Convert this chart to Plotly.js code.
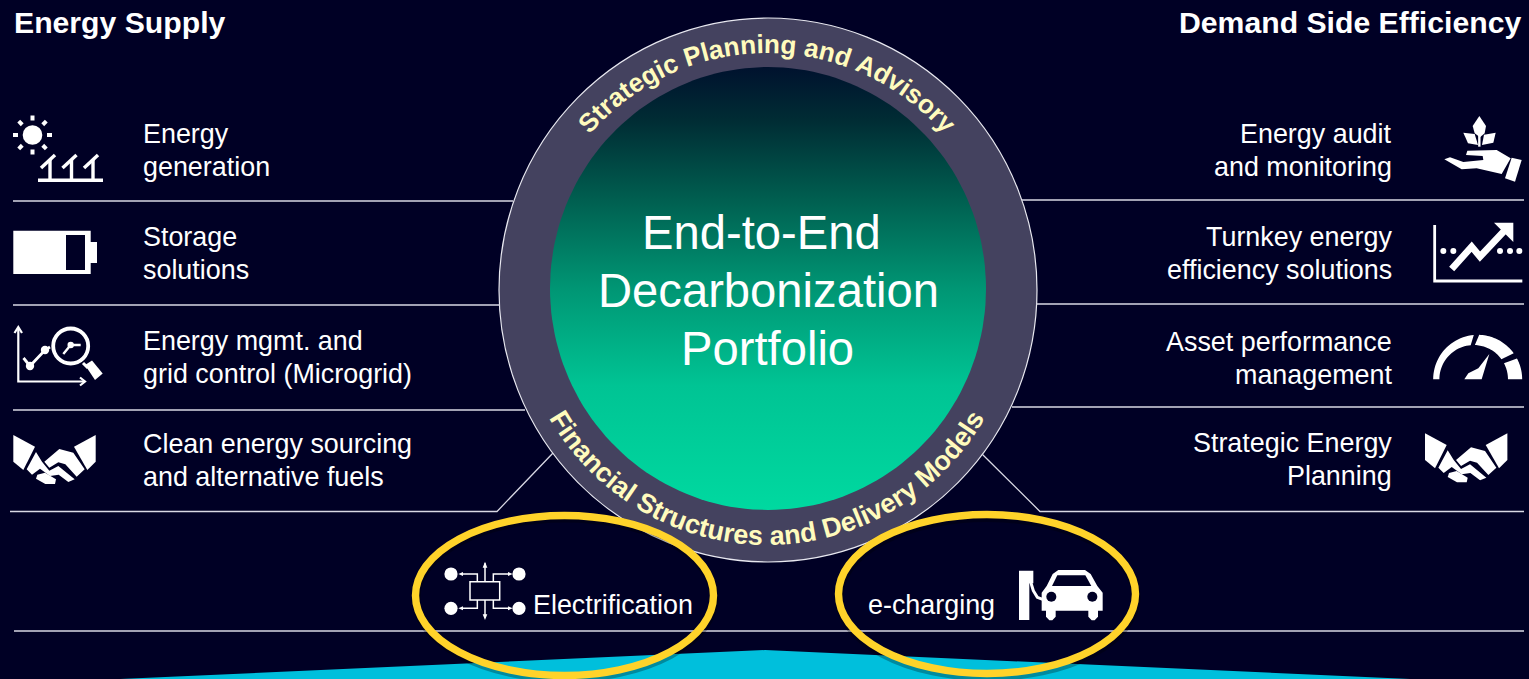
<!DOCTYPE html>
<html><head><meta charset="utf-8">
<script src="https://cdn.plot.ly/plotly-3.0.1.min.js"></script>
<style>html,body{margin:0;padding:0;background:#000025;overflow:hidden}#c{width:1529px;height:679px}</style>
</head><body><div id="c"></div>
<script>
const headerLeft = "Energy Supply";
const headerRight = "Demand Side Efficiency";
const leftLabels = [["Energy","generation"],["Storage","solutions"],["Energy mgmt. and","grid control (Microgrid)"],["Clean energy sourcing","and alternative fuels"]];
const rightLabels = [["Energy audit","and monitoring"],["Turnkey energy","efficiency solutions"],["Asset performance","management"],["Strategic Energy","Planning"]];
const centerLines = ["End-to-End","Decarbonization","Portfolio"];
const topArc = "Strategic Planning and Advisory";
const bottomArc = "Financial Structures and Delivery Models";
const bottomLabels = ["Electrification","e-charging"];

const BG="#000025", W="#ffffff", LINE="#d8d8e4", RING="#44425f", CREAM="#fffbbd", CYAN="#00bfdc", GOLD="#ffd32a";
const FONT="Liberation Sans";
const shapes=[], ann=[];

function P(pts,close){return "M"+pts.map(p=>p[0].toFixed(2)+","+p[1].toFixed(2)).join("L")+(close?"Z":"");}
function poly(pts,fill,layer){shapes.push({type:"path",path:P(pts,true),fillcolor:fill||W,line:{width:0},layer:layer||"above"});}
function pl(pts,w,color,layer){shapes.push({type:"path",path:P(pts,false),line:{width:w,color:color||W},fillcolor:"rgba(0,0,0,0)",layer:layer||"above"});}
function ell(cx,cy,rx,ry,fill,lw,lc,layer){shapes.push({type:"circle",x0:cx-rx,x1:cx+rx,y0:cy-ry,y1:cy+ry,fillcolor:fill||"rgba(0,0,0,0)",line:{width:lw||0,color:lc||W},layer:layer||"above"});}
function arc(cx,cy,r,a0,a1,n){const o=[];n=n||24;for(let i=0;i<=n;i++){const a=(a0+(a1-a0)*i/n)*Math.PI/180;o.push([cx+r*Math.cos(a),cy-r*Math.sin(a)]);}return o;}
function label(text,x,y,size,anchor,color,bold){ann.push({text:bold?"<b>"+text+"</b>":text,x:x,y:y,xref:"x",yref:"y",showarrow:false,xanchor:anchor,yanchor:"middle",font:{family:FONT,size:size,color:color||W},borderpad:0,borderwidth:0});}

// backdrop
poly([[120,679],[765,650],[1410,679]],CYAN,"below");
ell(768,290,269,272,RING,1.2,"#e8e8f0","below");

// separators
[201,305,410].forEach((y,i)=>pl([[13,y],[[513,500,525][i],y]],1.3,LINE,"below"));
[200,304,407].forEach((y,i)=>pl([[[1022,1036,1012][i],y],[1524,y]],1.3,LINE,"below"));
pl([[10,511.5],[497,511.5],[553,453]],1.3,LINE,"below");
pl([[982,454],[1040,511.5],[1524,511.5]],1.3,LINE,"below");
pl([[14,631],[1524,631]],1.3,LINE,"below");

// text blocks
label(headerLeft,14,22,30.2,"left",W,true);
label(headerRight,1521,22,30.2,"right",W,true);
const ly=[[134,167],[237,270],[341,374],[444,477]], ry=[[134,167],[237,270],[342,375],[443,476]];
leftLabels.forEach((l,i)=>l.forEach((t,j)=>label(t,143.4,ly[i][j],26.9,"left")));
rightLabels.forEach((l,i)=>l.forEach((t,j)=>label(t,1392.4,ry[i][j],26.9,"right")));
const cx=[761,768,767.5];
centerLines.forEach((t,i)=>label(t,cx[i],232+58*i,47.2,"center"));
label(bottomLabels[0],613,605,26.9,"center");
label(bottomLabels[1],931.5,605,26.9,"center");
const arcStart=ann.length;
label(topArc,768,60,26.2,"center",CREAM,true);
label(bottomArc,768,530,27,"center",CREAM,true);

// sun + panels
ell(32.5,135,9.8,9.8,W);
for(let k=0;k<8;k++){const a=k*Math.PI/4;pl([[32.5+14.5*Math.cos(a),135-14.5*Math.sin(a)],[32.5+19.5*Math.cos(a),135-19.5*Math.sin(a)]],4);}
pl([[38,180.3],[103,180.3]],3.4);
[0,21.5,43].forEach(d=>{pl([[41+d,168],[55+d,155]],3.4);pl([[50+d,160],[50+d,180]],3.4);});

// battery
poly([[13.3,230.7],[90.7,230.7],[90.7,242],[97,242],[97,263],[90.7,263],[90.7,274],[13.3,274]]);
poly([[66,235],[85,235],[85,270],[66,270]],BG);

// analytics
pl([[18.3,328],[18.3,381.5],[85,381.5]],2.2);
pl([[14.5,333],[18.3,327],[22,333]],2.2);
pl([[80,377.5],[85,381.5],[80,385.5]],2.2);
pl([[23.5,358],[30,366],[45,350],[50,347]],2.8);
ell(30,366,4.2,4.2,W);ell(45,350,4.2,4.2,W);
ell(70.7,346,17.5,17.5,"rgba(0,0,0,0)",3.8,W);
pl([[63.3,354],[70.7,345],[80.7,345]],2.4);ell(70.7,345,3.2,3.2,W);
pl([[83,363],[88,368]],3);
poly([[85,365],[92,360.5],[102.7,373.5],[95,380]]);

// handshake
function shake(dx,dy){
  const t=a=>a.map(p=>[p[0]/3+dx,p[1]/3+dy]);
  poly(t([[40,1005],[105,1040],[70,1110],[40,1085]]));
  poly(t([[287,1005],[287,1085],[262,1110],[222,1040]]));
  poly(t([[133,1085],[178,1047],[220,1058],[254,1108],[230,1130],[196,1093],[175,1087],[148,1103]]));
  poly(t([[108,1056],[126,1085],[148,1112],[175,1098],[224,1138],[205,1146],[176,1124],[150,1128],[120,1106],[96,1124],[80,1108]]));
  poly(t([[112,1124],[135,1118],[168,1138],[165,1152],[136,1152],[108,1136]]));
}
shake(0,100);shake(1411.7,98.3);

// plant in hand
const r=a=>a.map(p=>[1400+p[0]/3,100+p[1]/3]);
poly(r([[133,178],[150,172],[190,186],[250,180],[248,168],[198,165],[202,152],[290,150],[332,175],[305,222],[230,205],[185,208]]));
poly(r([[335,173],[365,180],[345,245],[315,235]]));
poly(r([[238,48],[258,78],[254,100],[240,112],[224,100],[218,78]]));
poly(r([[190,98],[224,102],[234,135],[204,130]]));
poly(r([[287,98],[280,128],[246,135],[252,104]]));
pl(r([[238,105],[238,140]]),2.4);

// growth chart
pl(r([[104,375],[104,543],[367,543]]),2.8);
pl(r([[155,507],[215,440],[240,470],[322,383]]),6.8);
poly(r([[282,368],[340,368],[340,426]]));
[[130,453],[160,453],[300,453],[330,453],[358,453]].forEach(p=>{const q=r([p])[0];ell(q[0],q[1],3,3,W);});

// gauge
function band(a0,a1){const c=1400+233/3,d=100+838/3,c2=1400+221/3;poly(arc(c,d,44.5,a0,a1).concat(arc(c2,d,34.3,a1,a0)));}
band(180,95);band(88,36);band(28,0);
poly(r([[193,838],[205,820],[235,805],[268,762],[245,838]]));

// electrification
[[451,574],[519,574],[451,608.3],[519,608.3]].forEach(p=>ell(p[0],p[1],6.6,6.6,W));
shapes.push({type:"rect",x0:470,x1:499.7,y0:581.7,y1:600,line:{width:1.5,color:W},fillcolor:"rgba(0,0,0,0)"});
const e=a=>a.map(p=>[400+p[0]/3,500+p[1]/3]);
pl(e([[255,245],[255,190]]),1.5);poly(e([[255,185],[248,203],[262,203]]));
pl(e([[255,300],[255,352]]),1.5);poly(e([[255,360],[248,343],[262,343]]));
[[232,222,175],[280,222,338],[232,325,175],[280,325,338]].forEach(c=>{const v=c[1]<250?245:300,s=c[2]<200?1:-1;pl(e([[c[0],v],[c[0],c[1]],[c[2]+s*8,c[1]]]),1.5);poly(e([[c[2],c[1]],[c[2]+s*14,c[1]-6],[c[2]+s*14,c[1]+6]]));});

// car + charger
const k=a=>a.map(p=>[820+p[0]/3,500+p[1]/3]);
poly(k([[597,212],[640,212],[640,250],[628,250],[628,360],[597,360]]));
pl(k([[632,246],[640,272],[652,292],[668,298]]),3);
poly(k([[680,258],[698,222],[715,210],[795,210],[812,222],[832,258],[848,278],[848,332],[834,332],[834,350],[824,361],[815,361],[805,350],[805,332],[707,332],[707,350],[697,361],[688,361],[678,350],[678,332],[665,332],[665,278]]));
poly(k([[696,258],[712,226],[796,226],[814,258]]),BG);
ell(820+694/3,500+290/3,5,5,BG);ell(820+817/3,500+290/3,5,5,BG);

// gold rings with their soft shadow
ell(565,598,149,80,null,9,"rgba(0,0,0,0.28)");
ell(987.5,597,148.5,79.5,null,9,"rgba(0,0,0,0.28)");
ell(564.5,595.5,149,80,null,7.4,GOLD);
ell(987,594,148.5,79.5,null,7.4,GOLD);

// gradient disc, through the library's own fill
const disc=[];for(let a=0;a<=360;a+=2){disc.push([768+218*Math.cos(a*Math.PI/180),288.5+221.5*Math.sin(a*Math.PI/180)]);}
const traces=[{type:"scatter",mode:"lines",x:disc.map(p=>p[0]),y:disc.map(p=>p[1]),fill:"toself",line:{width:0},hoverinfo:"skip",showlegend:false,
 fillgradient:{type:"vertical",start:67,stop:510,colorscale:[[0,"#00122e"],[0.12,"#002c34"],[0.3,"#005f50"],[0.5,"#009674"],[0.72,"#00c494"],[1,"#00d9a0"]]}}];

const layout={width:1529,height:679,margin:{l:0,r:0,t:0,b:0},paper_bgcolor:BG,plot_bgcolor:BG,showlegend:false,
 xaxis:{range:[0,1529],visible:false,fixedrange:true},yaxis:{range:[679,0],visible:false,fixedrange:true},shapes:shapes,annotations:ann};

Plotly.newPlot("c",traces,layout,{displayModeBar:false,staticPlot:true}).then(gd=>{
  const bend=(idx,rx,ry,sweep)=>{
    const g=gd.querySelector('.annotation[data-index="'+idx+'"]'); if(!g) return;
    const t=g.querySelector('text'); const str=t.textContent; const m=t.getScreenCTM().inverse();
    const L=(x,y)=>[m.a*x+m.c*y+m.e,m.b*x+m.d*y+m.f];
    const a=L(767-rx,290),b=L(767+rx,290);
    const NS="http://www.w3.org/2000/svg";
    const p=document.createElementNS(NS,"path");p.setAttribute("id","arc"+idx);
    p.setAttribute("d","M"+a[0]+","+a[1]+"A"+rx+","+ry+" 0 0 "+sweep+" "+b[0]+","+b[1]);p.setAttribute("fill","none");
    t.parentNode.insertBefore(p,t);
    t.textContent="";t.removeAttribute("x");t.removeAttribute("y");t.setAttribute("text-anchor","middle");t.style.fontWeight="bold";
    const tp=document.createElementNS(NS,"textPath");tp.setAttribute("href","#arc"+idx);tp.setAttribute("startOffset","50%");tp.textContent=str;t.appendChild(tp);
  };
  bend(arcStart,235,237,1);
  bend(arcStart+1,252,255,0);
});
</script></body></html>
